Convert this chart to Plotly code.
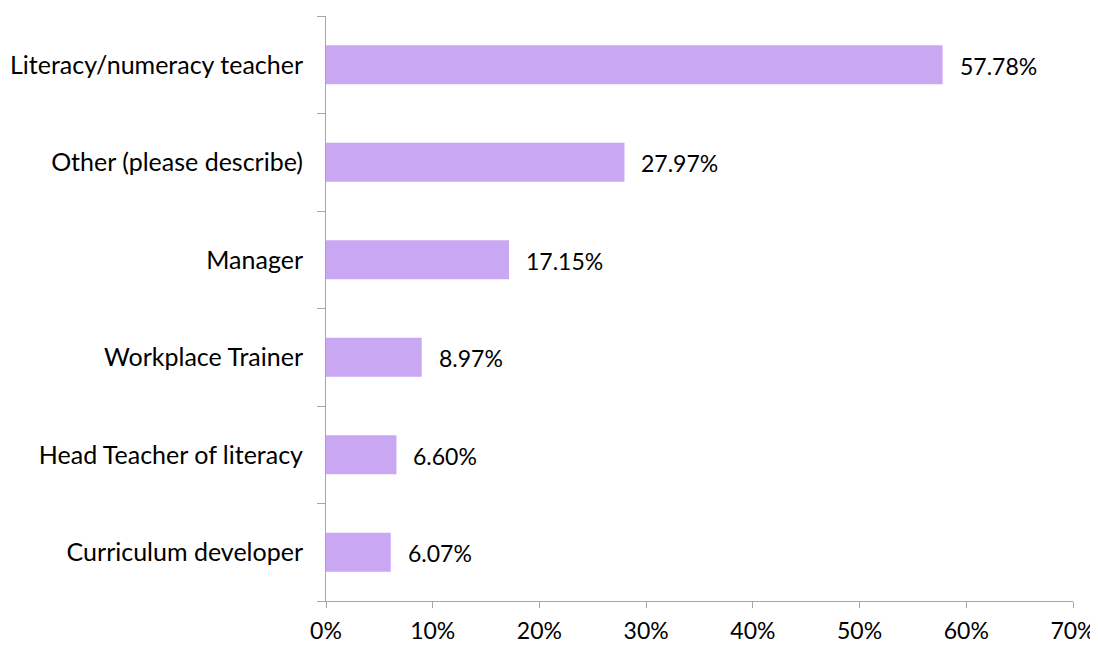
import plotly.graph_objects as go

roles = [
    "Literacy/numeracy teacher",
    "Other (please describe)",
    "Manager",
    "Workplace Trainer",
    "Head Teacher of literacy",
    "Curriculum developer",
]
shares = [57.78, 27.97, 17.15, 8.97, 6.60, 6.07]
x_ticks = [0, 10, 20, 30, 40, 50, 60, 70]

bar_color = "#C9A7F2"
axis_color = "#A6A6A6"
font = dict(family="Lato, Open Sans, sans-serif", size=25, color="#000000")
num_font = dict(family="Lato, Open Sans, sans-serif", size=23, color="#000000")

fig = go.Figure()
fig.add_bar(
    y=roles,
    x=shares,
    orientation="h",
    marker=dict(color=bar_color, line=dict(width=0)),
    width=0.4,
    hoverinfo="skip",
)

# value labels to the right of each bar
for r, v in zip(roles, shares):
    fig.add_annotation(
        x=v, y=r, text=f"{v:.2f}%", showarrow=False,
        xanchor="left", xshift=15, yshift=-1, font=num_font,
    )

# page body has an 8px margin, so the figure is 8px smaller than the window
fig.update_layout(
    width=1090, height=638,
    margin=dict(l=318, r=25, t=8, b=45),
    plot_bgcolor="white", paper_bgcolor="white",
    font=font, showlegend=False, bargap=0.6,
)
fig.update_xaxes(
    range=[0, 70], tickvals=x_ticks, ticktext=[f"{t}%" for t in x_ticks],
    showgrid=False, zeroline=False, showline=True, linecolor=axis_color, linewidth=1,
    ticks="outside", ticklen=6, tickcolor=axis_color, ticklabelstandoff=3,
    tickfont=num_font, automargin=False,
)
fig.update_yaxes(
    categoryorder="array", categoryarray=roles[::-1], range=[-0.5, 5.5],
    showgrid=False, zeroline=False, showline=True, linecolor=axis_color, linewidth=1,
    ticks="outside", ticklen=8, tickcolor=axis_color, tickson="boundaries",
    ticklabelstandoff=17, automargin=False,
)

fig.write_html("out.html")
